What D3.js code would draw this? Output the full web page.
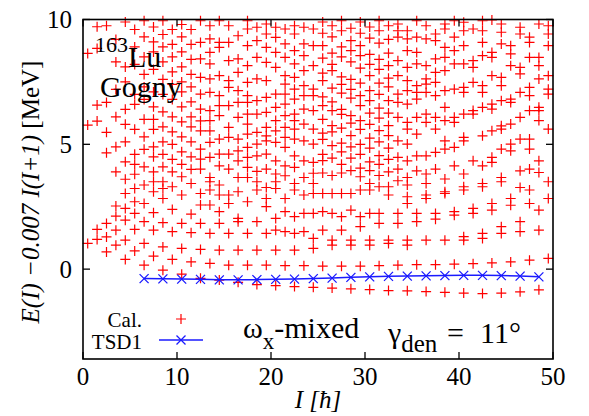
<!DOCTYPE html>
<html><head><meta charset="utf-8"><script src="https://cdn.jsdelivr.net/npm/d3@7"></script></head>
<body style="margin:0">
<svg id="chart" width="589" height="416" style="font-family: 'Liberation Serif'"></svg>
<script>
// ── spins (half-integer, in units of hbar)
const spins = [0.5, 1.5, 2.5, 3.5, 4.5, 5.5, 6.5, 7.5, 8.5, 9.5,
    10.5, 11.5, 12.5, 13.5, 14.5, 15.5, 16.5, 17.5, 18.5, 19.5,
    20.5, 21.5, 22.5, 23.5, 24.5, 25.5, 26.5, 27.5, 28.5, 29.5,
    30.5, 31.5, 32.5, 33.5, 34.5, 35.5, 36.5, 37.5, 38.5, 39.5,
    40.5, 41.5, 42.5, 43.5, 44.5, 45.5, 46.5, 47.5, 48.5, 49.5];

// calculated levels below ~3.5 MeV, one list per spin
const calLow = [
    [1.03], [1.59, 1.19], [1.83, 1.29, 0.69], [2.53, 2.12, 1.56, 0.96],
    [3.03, 2.43, 1.96, 1.16, 0.39], [3.23, 2.70, 2.23, 1.59, 0.73],
    [3.37, 2.63, 1.90, 1.03, 0.16], [3.50, 3.10, 2.26, 1.56, 0.52],
    [3.50, 3.23, 2.83, 1.86, 0.89, -0.04], [3.30, 2.39, 1.50, 0.39],
    [2.97, 1.83, 0.83, -0.20], [3.43, 2.20, 1.46, 0.29],
    [3.03, 2.57, 1.83, 0.79, -0.37], [3.50, 3.17, 2.57, 1.43, 0.23],
    [3.37, 2.97, 2.30, 1.83, 0.76, -0.44], [2.97, 2.63, 1.43, 0.16],
    [3.10, 2.03, 1.90, 0.76, -0.53], [2.70, 1.43, 0.16],
    [3.50, 3.17, 1.90, 0.76, -0.62], [2.83, 2.50, 1.43, 0.16],
    [3.50, 3.23, 2.03, 1.56, 0.76, -0.66], [2.83, 2.30, 1.50, 0.14],
    [3.43, 3.17, 2.10, 1.43, 0.76, -0.70], [2.97, 2.23, 1.50, 0.14],
    [3.43, 3.03, 2.23, 1.23, 0.83, -0.73], [3.03, 2.30, 1.56, 0.12],
    [3.03, 2.23, 1.16, 0.96, -0.76], [3.03, 2.10, 1.56, 0.12],
    [3.03, 2.36, 1.16, 0.96, -0.79], [3.17, 2.10, 1.70, 0.12],
    [3.43, 3.17, 2.23, 1.16, 0.96, -0.82], [3.30, 2.23, 1.83, 0.14],
    [3.30, 2.97, 1.16, 1.03, -0.86], [2.23, 1.83, 0.16],
    [3.37, 2.90, 2.63, 1.16, 0.96, -0.87], [2.23, 1.90, 0.18],
    [3.43, 2.97, 2.83, 1.16, -0.90], [2.23, 2.00, 0.18],
    [3.10, 3.03, 1.16, -0.93], [2.30, 2.16, 0.20],
    [3.30, 3.17, 1.30, 1.16, -0.96], [2.43, 2.23, 0.22],
    [3.43, 3.30, 1.43, 1.23, -0.98], [2.63, 2.36, 0.25],
    [3.50, 1.70, 1.43, -0.96], [2.83, 2.56, 0.29],
    [1.90, 1.50, -0.91], [3.17, 2.63, 0.36],
    [2.36, 1.56, -0.83], [3.50, 2.83, 0.43]
];

// calculated levels above ~3.5 MeV (dense region), one list per spin
const calHigh = [
    [8.64, 5.77],
    [9.71, 8.84, 6.57, 5.93],
    [9.75, 6.68, 5.48, 4.66],
    [9.2, 8.3, 7.2, 6.1, 4.9, 3.9],
    [9.9, 8.1, 7.5, 6.4, 5.8, 5.1, 4.3, 3.6],
    [9.6, 8.9, 8.2, 7.0, 6.6, 5.6, 4.6, 4.2, 3.8],
    [9.95, 9.3, 8.5, 7.8, 7.3, 6.8, 6.0, 5.3, 4.8, 4.1],
    [9.7, 9.1, 8.7, 8.0, 7.1, 6.5, 6.0, 5.6, 4.9, 4.5, 3.9],
    [9.95, 9.4, 8.9, 8.3, 7.6, 7.0, 6.3, 5.7, 5.1, 4.6, 4.1],
    [9.6, 9.0, 8.5, 7.9, 7.4, 6.8, 6.1, 5.5, 5.0, 4.4, 3.9],
    [9.8, 9.3, 8.7, 8.1, 7.5, 7.1, 6.5, 5.9, 5.3, 4.7, 4.2, 3.7],
    [9.6, 9.0, 8.4, 7.8, 7.3, 6.7, 6.1, 5.7, 5.1, 4.5, 4.0],
    [9.95, 9.08, 8.42, 7.68, 7.01, 6.41, 5.94, 5.54, 4.81, 4.41, 4.01],
    [9.75, 9.22, 8.68, 8.22, 7.62, 7.08, 6.35, 5.95, 5.54, 5.08, 4.48, 3.67],
    [9.95, 9.08, 8.88, 7.75, 6.95, 6.55, 6.15, 5.21, 4.61, 4.14],
    [9.75, 9.08, 8.35, 7.55, 7.28, 6.55, 5.68, 5.28, 4.61, 4.01],
    [9.35, 8.42, 7.88, 7.15, 6.68, 6.08, 5.21, 4.74, 4.34, 3.67],
    [9.95, 9.62, 8.95, 8.15, 7.48, 6.95, 6.68, 6.21, 5.81, 5.41, 4.88, 4.48, 4.08, 3.67],
    [9.69, 9.15, 8.48, 7.62, 6.75, 6.21, 5.48, 5.01, 4.54, 3.92],
    [9.82, 9.42, 8.88, 8.28, 7.55, 6.88, 6.28, 5.68, 5.34, 5.14, 4.61, 4.01, 3.27],
    [9.69, 9.28, 8.68, 8.08, 7.01, 6.48, 5.95, 5.54, 5.08, 4.34, 3.81],
    [9.62, 9.02, 8.48, 7.75, 7.41, 7.01, 6.61, 6.15, 5.68, 5.28, 4.88, 4.14, 3.74],
    [9.75, 9.42, 8.75, 8.22, 7.68, 7.21, 6.81, 6.21, 5.95, 5.61, 5.21, 4.54, 4.08],
    [9.69, 9.02, 8.55, 7.95, 7.35, 6.95, 6.41, 5.81, 5.14, 4.34, 3.67],
    [9.62, 8.95, 8.15, 7.21, 6.95, 6.35, 5.61, 5.01, 4.28, 3.84],
    [9.9, 9.45, 8.95, 8.45, 7.85, 7.55, 6.9, 6.55, 6.0, 5.45, 5.2, 4.6, 4.35, 3.85],
    [9.75, 9.3, 8.65, 8.2, 7.95, 7.25, 6.7, 6.35, 5.75, 5.5, 4.95, 4.45, 3.75],
    [9.95, 9.55, 8.9, 8.5, 7.7, 7.4, 7.05, 6.4, 6.2, 5.65, 5.05, 4.7, 4.2, 3.85],
    [9.65, 9.15, 8.75, 8.3, 7.6, 7.2, 6.85, 6.15, 5.85, 5.35, 4.9, 4.45, 3.95],
    [9.9, 9.45, 8.95, 8.55, 8.05, 7.45, 6.95, 6.55, 5.95, 5.6, 5.0, 4.6, 4.05, 3.7],
    [9.7, 9.25, 8.6, 8.2, 7.75, 7.15, 6.75, 6.25, 5.8, 5.25, 4.85, 4.3, 3.95],
    [9.95, 9.55, 9.05, 8.4, 8.0, 7.45, 7.0, 6.45, 6.05, 5.55, 5.1, 4.55, 4.2, 3.75],
    [9.75, 9.2, 8.65, 8.15, 7.65, 7.3, 6.75, 6.25, 5.75, 5.35, 4.85, 4.4, 3.9],
    [9.82, 9.55, 9.29, 8.35, 7.75, 7.01, 6.68, 6.08, 5.14, 4.48, 4.01, 3.54],
    [9.55, 9.22, 8.75, 8.08, 7.55, 7.15, 6.61, 5.88, 5.61, 5.01, 4.34, 3.67],
    [9.95, 9.29, 8.68, 8.22, 7.35, 7.08, 6.81, 6.08, 5.41, 4.54, 3.94],
    [9.75, 9.22, 8.15, 7.62, 7.41, 7.08, 6.21, 5.88, 4.54, 3.81],
    [9.42, 9.15, 8.42, 7.88, 7.48, 6.95, 6.08, 5.61, 4.68, 4.01],
    [9.82, 9.62, 8.88, 8.48, 7.95, 7.15, 6.48, 5.95, 5.14, 4.81, 3.61],
    [9.95, 9.29, 8.75, 8.22, 7.21, 6.08, 5.88, 4.88, 4.14],
    [9.89, 9.55, 8.95, 8.22, 7.28, 7.08, 6.21, 5.28, 5.14, 3.81],
    [9.62, 8.35, 8.08, 7.48, 6.35, 6.21, 4.34],
    [9.95, 9.55, 9.08, 8.55, 7.35, 7.08, 6.48, 5.34, 4.14],
    [9.98, 8.68, 8.48, 7.75, 6.61, 6.41, 5.54, 4.48, 4.28],
    [9.82, 9.49, 9.02, 7.68, 7.35, 6.75, 5.74, 5.61, 4.81, 3.67],
    [8.95, 8.62, 8.15, 6.81, 6.68, 5.81, 5.01, 4.74],
    [9.69, 9.42, 8.08, 7.82, 7.08, 6.08, 5.21, 3.94, 3.27],
    [9.29, 9.08, 8.48, 7.28, 6.95, 6.35, 5.21, 4.81, 4.01],
    [9.82, 8.48, 8.15, 7.62, 6.48, 6.35, 5.95, 4.34, 3.87],
    [9.75, 9.42, 8.95, 7.75, 7.21, 7.01, 5.61]
];

// TSD1 band
const tsdSpins = [6.5, 8.5, 10.5, 12.5, 14.5, 16.5, 18.5, 20.5, 22.5, 24.5, 26.5,
    28.5, 30.5, 32.5, 34.5, 36.5, 38.5, 40.5, 42.5, 44.5, 46.5, 48.5];
const tsdEnergy = [-0.38, -0.39, -0.40, -0.41, -0.43, -0.43, -0.42, -0.41, -0.40, -0.38, -0.36,
    -0.33, -0.31, -0.29, -0.28, -0.27, -0.26, -0.25, -0.25, -0.26, -0.28, -0.31];

const xTicks = [0, 10, 20, 30, 40, 50];
const yTicks = [0, 5, 10];

const W = 589, H = 416;
const margin = { top: 19.5, right: 36, bottom: 57, left: 83 };
const FONT = "Liberation Serif";
const svg = d3.select("#chart");

const x = d3.scaleLinear().domain([0, 50]).range([margin.left, W - margin.right]);
const y = d3.scaleLinear().domain([-3.6, 10]).range([H - margin.bottom, margin.top]);

const RED = "#ff0000", BLUE = "#1a1aff";
const plus = "M-5,0H5M0,-5V5";
const cross = "M-4.5,-4.5L4.5,4.5M-4.5,4.5L4.5,-4.5";

// flatten per-spin lists into points
const calPoints = [];
spins.forEach((s, i) => {
    calLow[i].concat(calHigh[i]).forEach(e => calPoints.push({ I: s, E: e }));
});

svg.append("g").selectAll("path").data(calPoints).enter().append("path")
    .attr("d", plus)
    .attr("transform", d => `translate(${x(d.I)},${y(d.E)})`)
    .attr("stroke", RED).attr("stroke-width", 1.2).attr("fill", "none");

const tsd = tsdSpins.map((s, i) => ({ I: s, E: tsdEnergy[i] }));
svg.append("path").datum(tsd)
    .attr("d", d3.line().x(d => x(d.I)).y(d => y(d.E)))
    .attr("stroke", BLUE).attr("stroke-width", 1.5).attr("fill", "none");
svg.append("g").selectAll("path").data(tsd).enter().append("path")
    .attr("d", cross)
    .attr("transform", d => `translate(${x(d.I)},${y(d.E)})`)
    .attr("stroke", BLUE).attr("stroke-width", 1.3).attr("fill", "none");

// frame + inward ticks on all four sides
const x0 = margin.left, x1 = W - margin.right, y0 = H - margin.bottom, y1 = margin.top;
const axes = svg.append("g").attr("stroke", "#000").attr("stroke-width", 1.3);
xTicks.forEach(t => {
    axes.append("line").attr("x1", x(t)).attr("x2", x(t)).attr("y1", y0).attr("y2", y0 - 7);
    axes.append("line").attr("x1", x(t)).attr("x2", x(t)).attr("y1", y1).attr("y2", y1 + 7);
});
yTicks.forEach(t => {
    axes.append("line").attr("x1", x0).attr("x2", x0 + 7).attr("y1", y(t)).attr("y2", y(t));
    axes.append("line").attr("x1", x1).attr("x2", x1 - 7).attr("y1", y(t)).attr("y2", y(t));
});
svg.append("rect").attr("x", x0).attr("y", y1).attr("width", x1 - x0).attr("height", y0 - y1)
    .attr("fill", "none").attr("stroke", "#000").attr("stroke-width", 1.6);

function label(parent, size) {
    return parent.append("text")
        .attr("font-family", FONT).style("font-family", FONT)
        .attr("font-size", size).style("font-size", size + "px");
}

xTicks.forEach(t => {
    label(svg, 25).attr("x", x(t)).attr("y", 385).attr("text-anchor", "middle").text(t);
});
yTicks.forEach(t => {
    label(svg, 25).attr("x", 72).attr("y", y(t) + 8.5).attr("text-anchor", "end").text(t);
});

// axis titles
label(svg, 25).attr("x", (x0 + x1) / 2).attr("y", 408).attr("text-anchor", "middle")
    .style("font-style", "italic").text("I [ħ]");
const yt = label(svg, 25).attr("transform", "translate(39,192) rotate(-90)")
    .attr("text-anchor", "middle");
yt.append("tspan").style("font-style", "italic").text("E(I) −0.007 I(I+1) ");
yt.append("tspan").text("[MeV]");

// nucleus / interaction labels
const nuc = label(svg, 30).attr("x", 95).attr("y", 52);
nuc.append("tspan").style("font-size", "22px").text("163");
nuc.append("tspan").attr("dy", 15).text("Lu");
label(svg, 30).attr("x", 100).attr("y", 97).text("Gogny");

const om = label(svg, 30).attr("x", 243).attr("y", 338);
om.append("tspan").text("ω");
om.append("tspan").style("font-size", "23px").attr("dy", 11).text("x");
om.append("tspan").attr("dy", -11).text("-mixed");

const gm = label(svg, 30).attr("x", 388).attr("y", 343);
gm.append("tspan").text("γ");
gm.append("tspan").style("font-size", "25px").attr("dy", 9).text("den");
gm.append("tspan").attr("x", 447).attr("dy", -9).text("=");
gm.append("tspan").attr("x", 480).text("11°");

// legend
const lg = svg.append("g");
label(lg, 21).attr("x", 142).attr("y", 327).attr("text-anchor", "end").text("Cal.");
lg.append("path").attr("d", plus).attr("transform", "translate(181,319)")
    .attr("stroke", RED).attr("stroke-width", 1.2).attr("fill", "none");
label(lg, 21).attr("x", 142).attr("y", 349).attr("text-anchor", "end").text("TSD1");
lg.append("line").attr("x1", 159).attr("x2", 203).attr("y1", 340).attr("y2", 340)
    .attr("stroke", BLUE).attr("stroke-width", 1.5);
lg.append("path").attr("d", cross).attr("transform", "translate(181,340)")
    .attr("stroke", BLUE).attr("stroke-width", 1.3).attr("fill", "none");
</script>
</body>
</html>
